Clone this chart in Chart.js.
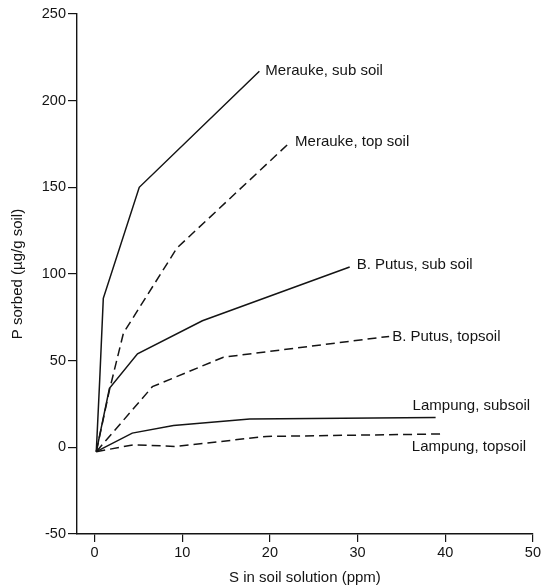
<!DOCTYPE html>
<html>
<head>
<meta charset="utf-8">
<script src="https://cdn.jsdelivr.net/npm/chart.js@4"></script>
<style>
  html, body { margin: 0; padding: 0; background: #fff; }
  #wrap { width: 543px; height: 587px; }
</style>
</head>
<body>
<div id="wrap"><canvas id="chart" width="543" height="587"></canvas></div>
<script>
// ─── DATA: P sorption curves ─────────────────────────────
const seriesLabels = [
  'Merauke, sub soil',
  'Merauke, top soil',
  'B. Putus, sub soil',
  'B. Putus, topsoil',
  'Lampung, subsoil',
  'Lampung, topsoil',
];

const merSubX   = [0.2, 0.6, 1.0, 5.1, 18.8];
const merSubY   = [-2.5, 40, 86, 150, 217];
const merTopX   = [0.2, 1.7, 3.3, 9.4, 22.3];
const merTopY   = [-2.5, 33, 66, 115, 176];
const putSubX   = [0.2, 1.7, 4.9, 12.3, 29.1];
const putSubY   = [-2.5, 34, 54, 73, 104];
const putTopX   = [0.2, 6.6, 14.7, 33.6];
const putTopY   = [-2.5, 35, 52, 64];
const lamSubX   = [0.2, 4.3, 9.0, 17.7, 38.9];
const lamSubY   = [-2.5, 8.2, 12.6, 16.3, 17.2];
const lamTopX   = [0.2, 4.5, 9.2, 19.6, 39.5];
const lamTopY   = [-2.5, 1.5, 0.5, 6.3, 7.7];

const xTicks = [0, 10, 20, 30, 40, 50];
const yTicks = [-50, 0, 50, 100, 150, 200, 250];

const pairs = (xs, ys) => xs.map((x, i) => ({ x, y: ys[i] }));

const seriesData = [
  pairs(merSubX, merSubY),
  pairs(merTopX, merTopY),
  pairs(putSubX, putSubY),
  pairs(putTopX, putTopY),
  pairs(lamSubX, lamSubY),
  pairs(lamTopX, lamTopY),
];
const seriesDashed = [false, true, false, true, false, true];

// offset of each curve label from the curve's last point (px)
const LABEL_OFFSETS = [[6, 0], [5, 0], [7, -2], [3, 0], [-23, -12], [-29, 13]];

const FONT = '"Liberation Sans", Arial, Helvetica, sans-serif';
const INK  = '#141414';

// texto al final de cada curva
const endLabels = {
  id: 'endLabels',
  afterDatasetsDraw(chart) {
    const { ctx } = chart;
    ctx.save();
    ctx.font = '15px ' + FONT;
    ctx.fillStyle = INK;
    ctx.textBaseline = 'middle';
    ctx.textAlign = 'left';
    chart.data.datasets.forEach((ds, i) => {
      const pts  = chart.getDatasetMeta(i).data;
      const last = pts[pts.length - 1];
      const [dx, dy] = LABEL_OFFSETS[i];
      ctx.fillText(ds.label, last.x + dx, last.y + dy);
    });
    ctx.restore();
  },
};

new Chart(document.getElementById('chart'), {
  type: 'line',
  data: {
    datasets: seriesData.map((d, i) => ({
      label: seriesLabels[i],
      data: d,
      borderColor: INK,
      borderWidth: 1.5,
      borderDash: seriesDashed[i] ? [9, 5] : [],
      pointRadius: 0,
      tension: 0,
      fill: false,
    })),
  },
  options: {
    responsive: false,
    animation: false,
    layout: { padding: { top: 14, right: 9, left: 0, bottom: 0 } },
    plugins: { legend: { display: false }, tooltip: { enabled: false } },
    scales: {
      x: {
        type: 'linear',
        min: -2,
        max: 50,
        afterBuildTicks: s => { s.ticks = xTicks.map(v => ({ value: v })); },
        afterFit: s => { s.height = 53; },
        grid: { drawOnChartArea: false, drawTicks: true, tickLength: 8, color: INK, lineWidth: 1.2 },
        border: { display: true, color: INK, width: 1.4 },
        ticks: { color: INK, font: { family: FONT, size: 14.5 }, padding: 2, maxRotation: 0 },
        title: {
          display: true,
          text: 'S in soil solution (ppm)',
          color: INK,
          font: { family: FONT, size: 15 },
          padding: { top: 0, bottom: 0 },
        },
      },
      y: {
        type: 'linear',
        min: -50,
        max: 250,
        afterBuildTicks: s => { s.ticks = yTicks.map(v => ({ value: v })); },
        afterFit: s => { s.width = 77; },
        grid: { drawOnChartArea: false, drawTicks: true, tickLength: 9, color: INK, lineWidth: 1.2 },
        border: { display: true, color: INK, width: 1.4 },
        ticks: { color: INK, font: { family: FONT, size: 14.5 }, padding: 2 },
        title: {
          display: true,
          text: 'P sorbed (µg/g soil)',
          color: INK,
          font: { family: FONT, size: 15 },
          padding: { top: 9, bottom: 0 },
        },
      },
    },
  },
  plugins: [endLabels],
});
</script>
</body>
</html>
